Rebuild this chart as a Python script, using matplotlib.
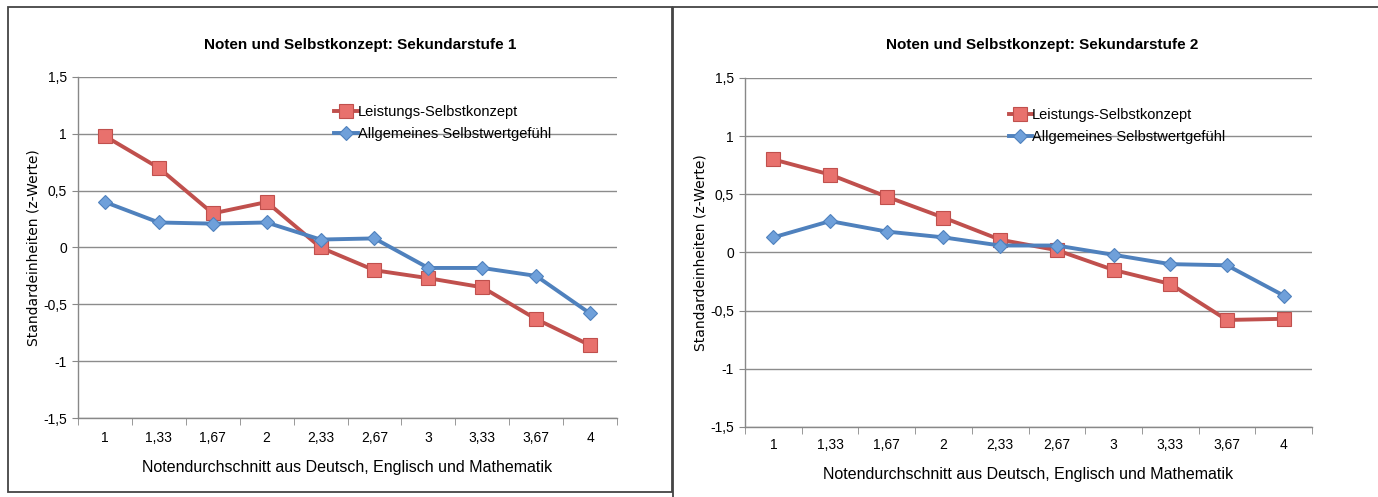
import matplotlib
matplotlib.use("Agg")
import matplotlib.pyplot as plt
from matplotlib.patches import Rectangle

categories = ["1", "1,33", "1,67", "2", "2,33", "2,67", "3", "3,33", "3,67", "4"]
sek1_leistung = [0.98, 0.70, 0.30, 0.40, 0.00, -0.20, -0.27, -0.35, -0.63, -0.86]
sek1_allgemein = [0.40, 0.22, 0.21, 0.22, 0.07, 0.08, -0.18, -0.18, -0.25, -0.58]
sek2_leistung = [0.80, 0.67, 0.48, 0.30, 0.11, 0.02, -0.15, -0.27, -0.58, -0.57]
sek2_allgemein = [0.13, 0.27, 0.18, 0.13, 0.06, 0.06, -0.02, -0.10, -0.11, -0.37]
yticks = [-1.5, -1, -0.5, 0, 0.5, 1, 1.5]
ytick_labels = ["-1,5", "-1", "-0,5", "0", "0,5", "1", "1,5"]
titles = ["Noten und Selbstkonzept: Sekundarstufe 1", "Noten und Selbstkonzept: Sekundarstufe 2"]
series_names = ["Leistungs-Selbstkonzept", "Allgemeines Selbstwertgefühl"]
xlabel = "Notendurchschnitt aus Deutsch, Englisch und Mathematik"
ylabel = "Standardeinheiten (z-Werte)"

W, H = 1378, 497
fig = plt.figure(figsize=(W / 100, H / 100), dpi=100)
fig.patch.set_facecolor("white")

txtfont = ["Liberation Sans Narrow", "Liberation Sans", "DejaVu Sans"]
red, red_fill = "#C0504D", "#E8716D"
blue, blue_fill = "#4F81BD", "#6FA0DA"

def px(x0, y0, x1, y1):
    return [x0 / W, 1 - y1 / H, (x1 - x0) / W, (y1 - y0) / H]

panels = [
    dict(ax=px(78, 77, 617, 418), title_y=45, title_x=360, data=(sek1_leistung, sek1_allgemein),
         leg=(0.465, 0.935), xlpad=8, ylpad=14),
    dict(ax=px(745, 78, 1312, 427), title_y=45, title_x=1042, data=(sek2_leistung, sek2_allgemein),
         leg=(0.455, 0.93), xlpad=7, ylpad=14),
]

# panel frames
fig.add_artist(Rectangle((8 / W, 1 - 492 / H), (672 - 8) / W, (492 - 7) / H, transform=fig.transFigure,
                         fill=False, edgecolor="#444444", linewidth=1.3))
fig.add_artist(Rectangle((673 / W, 1 - 520 / H), (1420 - 673) / W, (520 - 7) / H, transform=fig.transFigure,
                         fill=False, edgecolor="#444444", linewidth=1.3, clip_on=False))

x = list(range(len(categories)))
for p, title in zip(panels, titles):
    ax = fig.add_axes(p["ax"])
    lei, allg = p["data"]
    ax.plot(x, lei, color=red, linewidth=2.8, marker="s", markersize=9.5,
            markerfacecolor=red_fill, markeredgecolor=red, markeredgewidth=0.8, zorder=3,
            label=series_names[0])
    ax.plot(x, allg, color=blue, linewidth=2.8, marker="D", markersize=7,
            markerfacecolor=blue_fill, markeredgecolor=blue, markeredgewidth=0.8, zorder=3,
            label=series_names[1])
    ax.set_xlim(-0.5, len(categories) - 0.5)
    ax.set_ylim(-1.5, 1.5)
    ax.set_yticks(yticks)
    ax.set_yticklabels(ytick_labels, family=txtfont, fontsize=10)
    ax.set_xticks(x)
    ax.set_xticklabels(categories, family=txtfont, fontsize=10)
    ax.set_xticks([i - 0.5 for i in range(len(categories) + 1)], minor=True)
    ax.tick_params(axis="x", which="major", length=0, pad=p["xlpad"] + 1)
    ax.tick_params(axis="x", which="minor", length=5, color="#888888", direction="out")
    ax.tick_params(axis="y", length=4, color="#888888", pad=4)
    ax.grid(axis="y", color="#8C8C8C", linewidth=1.0, zorder=0)
    ax.set_axisbelow(True)
    for s in ["top", "right"]:
        ax.spines[s].set_visible(False)
    for s in ["left", "bottom"]:
        ax.spines[s].set_color("#888888")
        ax.spines[s].set_linewidth(1.0)
    ax.set_xlabel(xlabel, family=txtfont, fontsize=11.5, labelpad=p["ylpad"] - 3)
    ax.set_ylabel(ylabel, family="DejaVu Sans", fontsize=10, labelpad=2)
    fig.text(p["title_x"] / W, 1 - p["title_y"] / H, title, family=txtfont, fontsize=11,
             fontweight="bold", ha="center", va="center")
    ax.legend(loc="upper left", bbox_to_anchor=p["leg"], frameon=False,
              prop={"family": txtfont, "size": 10.5}, handlelength=1.6,
              handletextpad=0.0, labelspacing=0.55, borderaxespad=0)

fig.savefig("out.png", dpi=100, facecolor="white")
